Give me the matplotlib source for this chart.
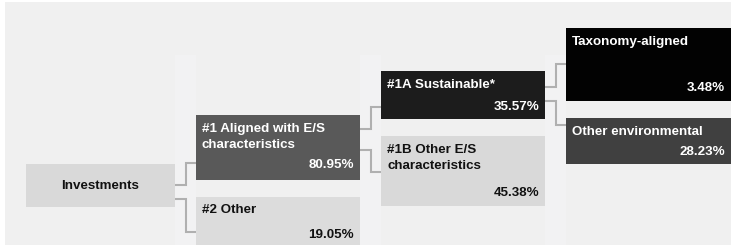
import matplotlib
matplotlib.use("Agg")
import matplotlib.pyplot as plt
from matplotlib.patches import Rectangle

plt.rcParams['font.family'] = ['Liberation Sans', 'DejaVu Sans']

# ---- data ----
node_names = ["Investments", "#1 Aligned with E/S\ncharacteristics", "#2 Other",
              "#1A Sustainable*", "#1B Other E/S\ncharacteristics",
              "Taxonomy-aligned", "Other environmental"]
node_values = [None, "80.95%", "19.05%", "35.57%", "45.38%", "3.48%", "28.23%"]
parents = [None, 0, 0, 1, 1, 3, 3]

# ---- layout (pixel coords, y downwards) ----
W, H = 731, 245
boxes = [  # x0, y0, x1, y1
    (26, 164, 175, 207),
    (196, 115, 360, 180),
    (196, 197, 360, 246),
    (381, 71, 545, 119),
    (381, 136, 545, 206),
    (566, 28, 732, 101),
    (566, 118, 732, 164),
]
fills = ["#d9d9d9", "#595959", "#dcdcdc", "#1c1c1c", "#d9d9d9", "#020202", "#404040"]
txtc = ["#111111", "#ffffff", "#111111", "#ffffff", "#111111", "#ffffff", "#ffffff"]
label_y = [None, 129, 210, 85, 150, 42, 132]
value_y = [None, 165, 235, 107, 193, 88, 152]
# connector: (exit y on parent, entry y on child)
conn = {1: (185, 163), 2: (199, 232), 3: (129, 107), 4: (150, 172), 5: (87, 64), 6: (101, 125)}

fig = plt.figure(figsize=(W / 100, H / 100), dpi=100)
ax = fig.add_axes([0, 0, 1, 1])
ax.set_xlim(0, W)
ax.set_ylim(H, 0)
ax.axis('off')
fig.patch.set_facecolor('white')

ax.add_patch(Rectangle((5, 2), W, H, facecolor="#f0f0f0", edgecolor='none', zorder=0))
for gx0, gx1 in [(175, 196), (360, 381), (545, 566)]:
    ax.add_patch(Rectangle((gx0, 55), gx1 - gx0, H, facecolor="#f2f2f3", edgecolor='none', zorder=0.5))

for i, p in enumerate(parents):
    if p is None:
        continue
    px1 = boxes[p][2]
    cx0 = boxes[i][0]
    mx = (px1 + cx0) / 2
    ye, yc = conn[i]
    ax.plot([px1, mx, mx, cx0], [ye, ye, yc, yc], color="#b0b0b0", lw=1.5, zorder=1,
            solid_joinstyle='miter')

FS = 9.6
for i, (x0, y0, x1, y1) in enumerate(boxes):
    ax.add_patch(Rectangle((x0, y0), x1 - x0, y1 - y0, facecolor=fills[i], edgecolor='none', zorder=2))
    if node_values[i] is None:
        ax.text((x0 + x1) / 2, (y0 + y1) / 2, node_names[i], ha='center', va='center',
                fontsize=FS, fontweight='bold', color=txtc[i], zorder=3)
    else:
        lines = node_names[i].split("\n")
        for k, ln in enumerate(lines):
            ax.text(x0 + 6, label_y[i] + 15.5 * k, ln, ha='left', va='center',
                    fontsize=FS, fontweight='bold', color=txtc[i], zorder=3)
        xr = min(x1, W) - 6
        ax.text(xr, value_y[i], node_values[i], ha='right', va='center',
                fontsize=FS, fontweight='bold', color=txtc[i], zorder=3)

fig.savefig("out.png", dpi=100, facecolor=fig.get_facecolor())
